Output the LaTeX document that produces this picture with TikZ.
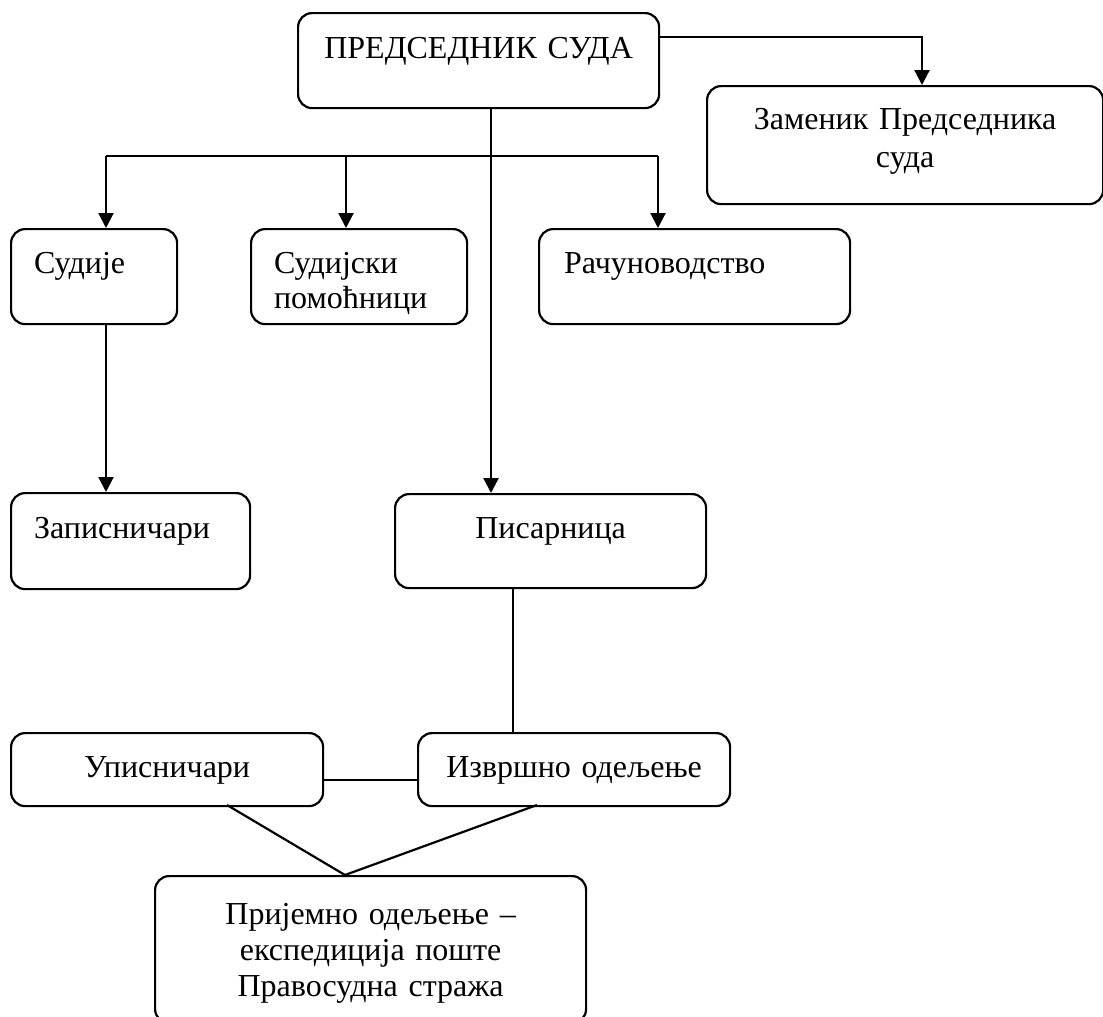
\documentclass[tikz,border=0pt]{standalone}
\usepackage{fontspec}
\setmainfont{Liberation Serif}
\usetikzlibrary{arrows.meta}
\tikzstyle{unit} = [rectangle, draw=black, rounded corners=14pt, inner ysep=0pt, anchor=north west]
\tikzstyle{mid} = [unit, inner xsep=0pt, align=center]
\tikzstyle{side} = [unit, inner xsep=23pt, align=left]
\tikzstyle{link} = [-{Triangle[length=15pt, width=15pt]}]

\begin{document}
\begin{tikzpicture}[x=1pt, y=-1pt, line width=2.2pt, font=\fontsize{32}{36}\selectfont]
	\useasboundingbox (0,0) rectangle (1103,1017);

	% head of the court
	\node (Pres) [mid, text width=361pt, text height=45pt, text depth=50pt] at (297,12) {ПРЕДСЕДНИК СУДА};
	\node (Dep) [mid, text width=396pt, text height=43pt, text depth=75pt, font=\fontsize{32}{38}\selectfont] at (706,85) {Заменик Председника\\суда};
	\coordinate (PresR) at (658,37);
	\coordinate (DepIn) at (922,85);
	\draw [link] (PresR) -| (DepIn);

	% first row
	\node (Sud) [side, text width=120pt, text height=44pt, text depth=51pt] at (10,228) {Судије};
	\node (Pom) [side, text width=170pt, text height=44pt, text depth=51pt, font=\fontsize{32}{35}\selectfont] at (250,228) {Судијски\\помоћници};
	\node (Rac) [side, inner xsep=25pt, text width=261pt, text height=44pt, text depth=51pt] at (538,228) {Рачуноводство};

	\coordinate (BusL) at (106,156);
	\coordinate (BusM) at (346,156);
	\coordinate (BusR) at (658,156);
	\draw (BusL) -- (BusR);
	\draw [link] (BusL) -- (BusL |- Sud.north);
	\draw [link] (BusM) -- (BusM |- Pom.north);
	\draw [link] (BusR) -- (BusR |- Rac.north);

	% second row
	\node (Zap) [side, text width=193pt, text height=45pt, text depth=51pt] at (10,492) {Записничари};
	\node (Pis) [mid, text width=311pt, text height=44pt, text depth=50pt] at (394,493) {Писарница};
	\draw [link] (BusL |- Sud.south) -- (BusL |- Zap.north);

	\coordinate (Trunk) at (491,107);
	\draw [link] (Trunk) -- (Trunk |- Pis.north);

	% third row
	\node (Upi) [mid, text width=312pt, text height=44pt, text depth=29pt] at (10,732) {Уписничари};
	\node (Izv) [mid, text width=312pt, text height=44pt, text depth=29pt] at (417,732) {Извршно одељење};
	\coordinate (PisOut) at (513,587);
	\draw (PisOut) -- (PisOut |- Izv.north);
	\coordinate (Tie) at (322,780);
	\draw (Tie) -- (Tie -| Izv.west);

	% bottom
	\node (Pri) [mid, text width=431pt, text height=48pt, text depth=99pt] at (154,875) {Пријемно одељење –\\експедиција поште\\Правосудна стража};
	\coordinate (UpiOut) at (227,805);
	\coordinate (IzvOut) at (537,805);
	\coordinate (PriIn) at (345,875);
	\draw (UpiOut) -- (PriIn);
	\draw (IzvOut) -- (PriIn);
\end{tikzpicture}
\end{document}
